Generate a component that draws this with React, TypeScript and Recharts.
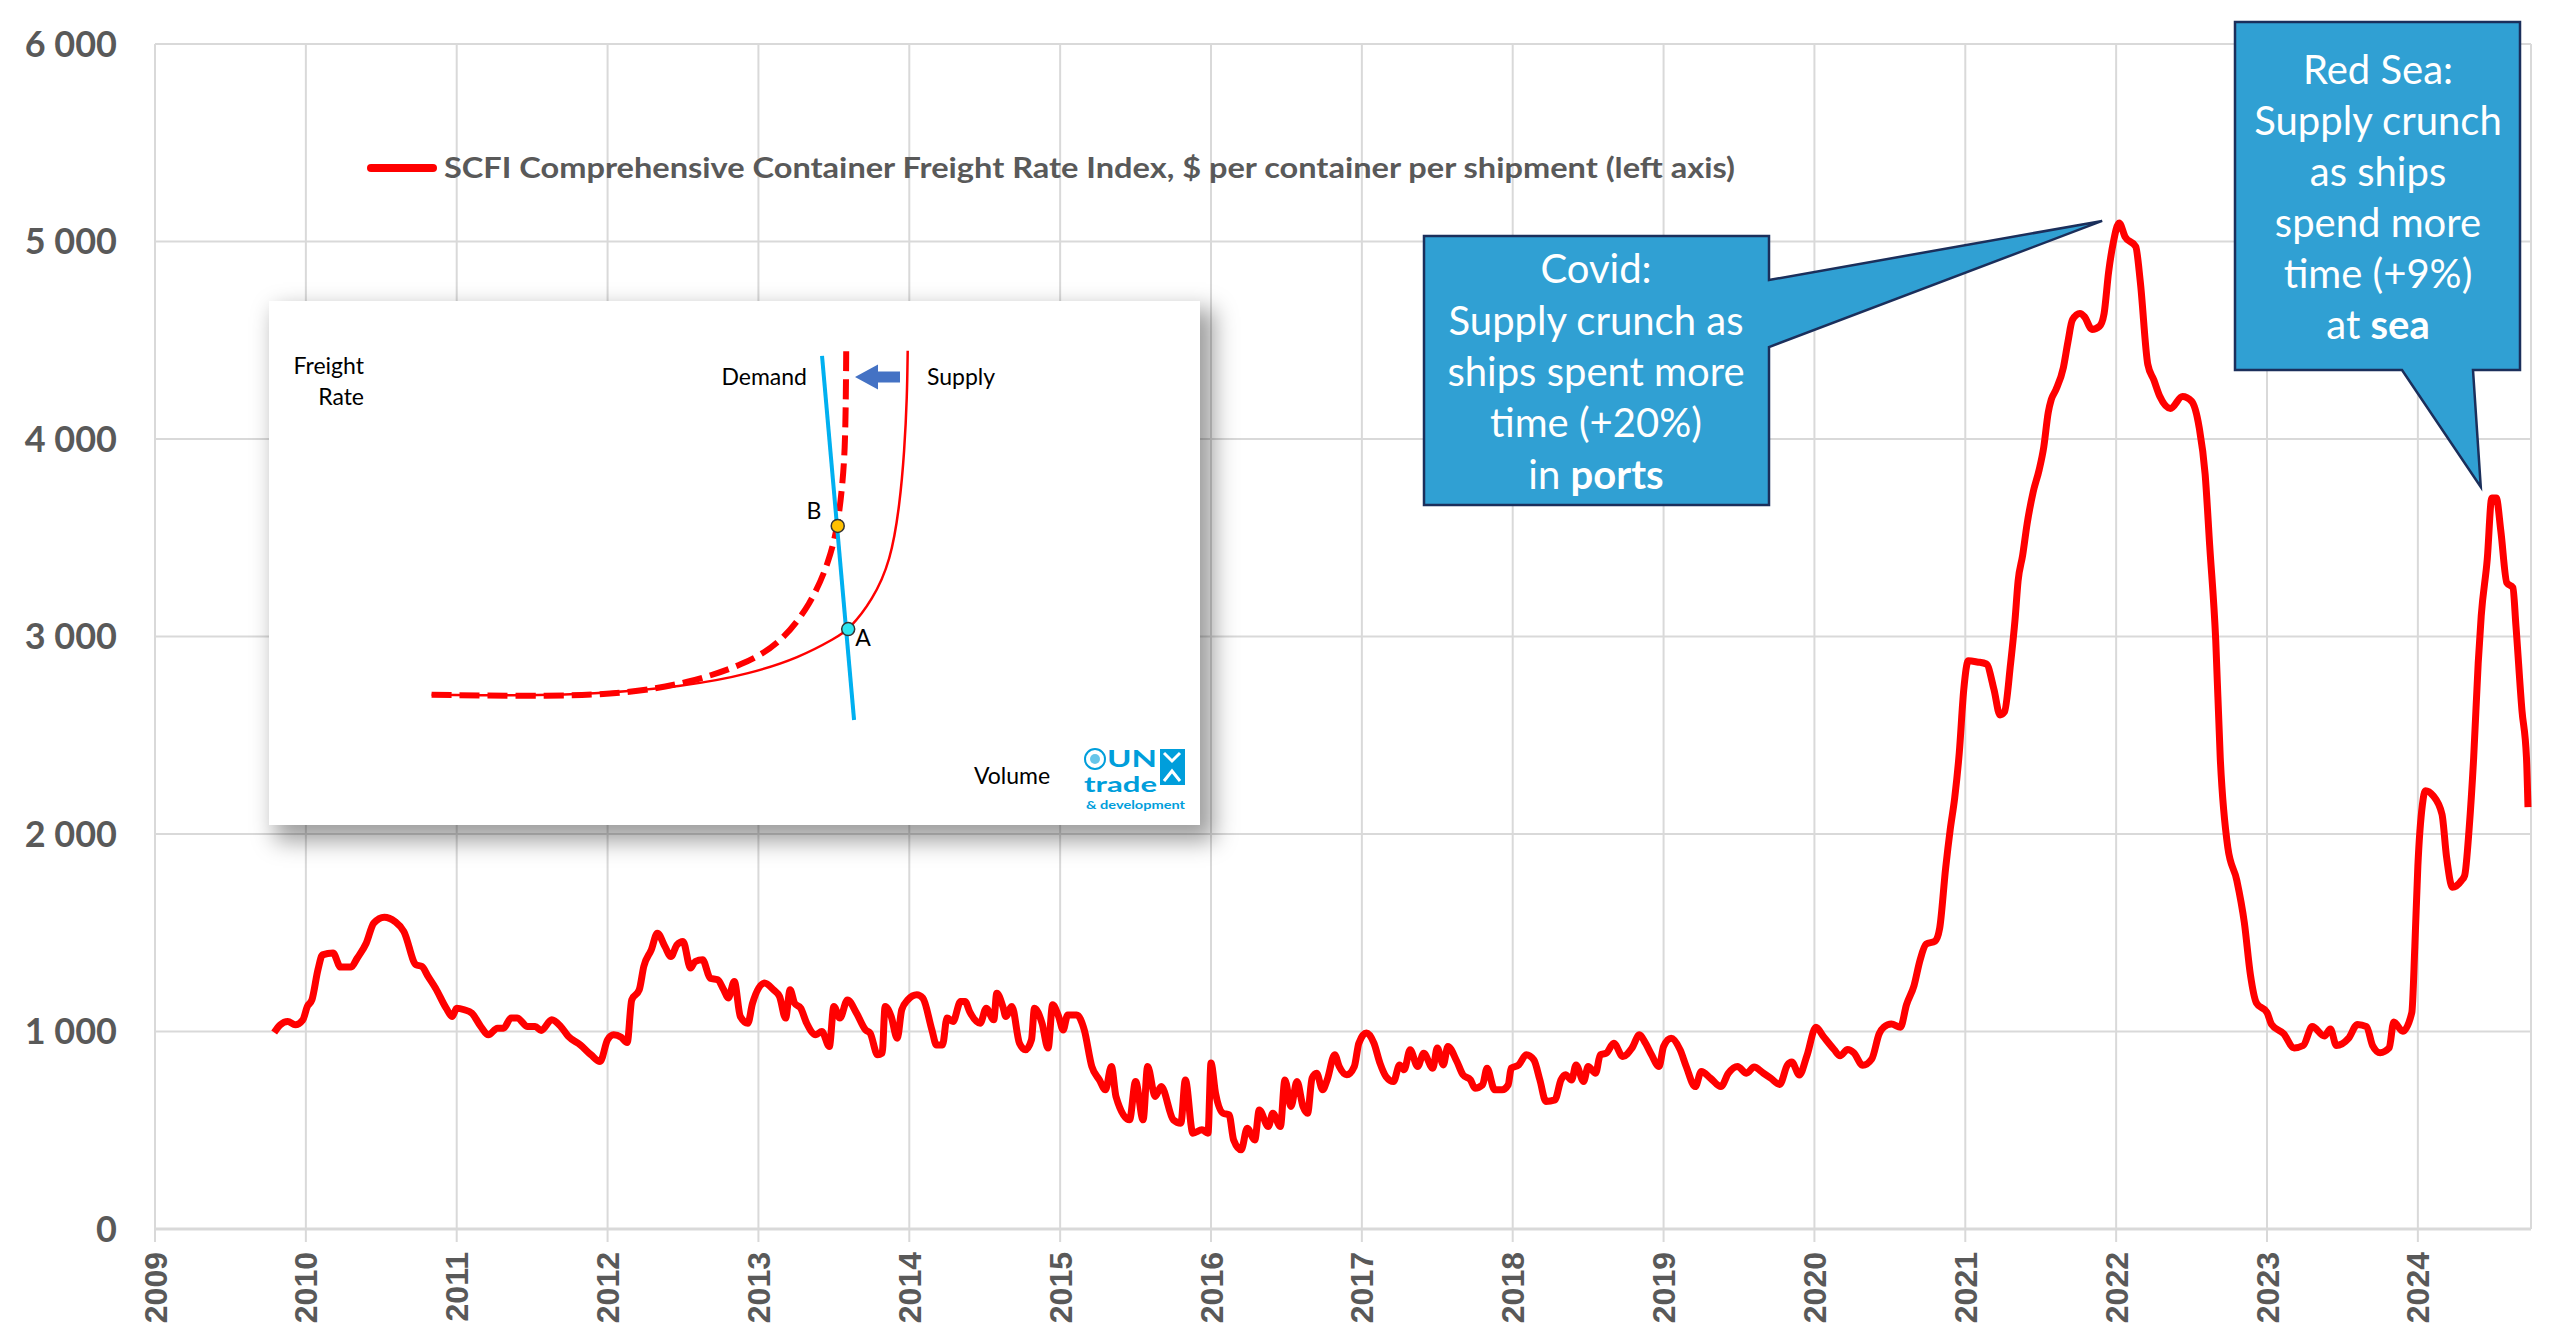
import { CartesianGrid, Line, LineChart, ReferenceDot, XAxis, YAxis } from 'recharts';

// main chart: SCFI weekly index
const YEARS = [2009, 2010, 2011, 2012, 2013, 2014, 2015, 2016, 2017, 2018, 2019, 2020, 2021, 2022, 2023, 2024];
const RATE_TICKS = [0, 1000, 2000, 3000, 4000, 5000, 6000];

const weekDates = [
  2009.79, 2009.83, 2009.88, 2009.93, 2009.98, 2010.01, 2010.04, 2010.08, 2010.11, 2010.18, 2010.23, 2010.3, 2010.34, 2010.4,
  2010.45, 2010.52, 2010.59, 2010.65, 2010.73, 2010.77, 2010.81, 2010.86, 2010.93, 2010.97, 2011.0, 2011.05, 2011.1, 2011.16,
  2011.21, 2011.27, 2011.31, 2011.36, 2011.4, 2011.47, 2011.52, 2011.56, 2011.63, 2011.69, 2011.74, 2011.82, 2011.89, 2011.95,
  2012.0, 2012.04, 2012.09, 2012.13, 2012.16, 2012.21, 2012.24, 2012.29, 2012.33, 2012.38, 2012.42, 2012.46, 2012.5, 2012.55,
  2012.58, 2012.63, 2012.68, 2012.73, 2012.77, 2012.8, 2012.84, 2012.88, 2012.93, 2012.96, 2013.04, 2013.1, 2013.14, 2013.18,
  2013.21, 2013.24, 2013.28, 2013.32, 2013.38, 2013.42, 2013.47, 2013.5, 2013.54, 2013.59, 2013.65, 2013.71, 2013.74, 2013.79,
  2013.82, 2013.84, 2013.88, 2013.92, 2013.95, 2013.99, 2014.05, 2014.09, 2014.15, 2014.18, 2014.22, 2014.25, 2014.29, 2014.34,
  2014.37, 2014.4, 2014.47, 2014.51, 2014.56, 2014.58, 2014.62, 2014.64, 2014.68, 2014.73, 2014.77, 2014.81, 2014.83, 2014.88,
  2014.92, 2014.95, 2014.99, 2015.02, 2015.05, 2015.11, 2015.16, 2015.21, 2015.26, 2015.3, 2015.34, 2015.37, 2015.46, 2015.5,
  2015.55, 2015.58, 2015.63, 2015.67, 2015.75, 2015.8, 2015.83, 2015.88, 2015.94, 2015.98, 2016.0, 2016.03, 2016.08, 2016.12,
  2016.15, 2016.2, 2016.24, 2016.29, 2016.32, 2016.38, 2016.41, 2016.46, 2016.49, 2016.53, 2016.57, 2016.61, 2016.64, 2016.67,
  2016.7, 2016.74, 2016.77, 2016.82, 2016.85, 2016.9, 2016.95, 2016.98, 2017.03, 2017.08, 2017.12, 2017.16, 2017.21, 2017.25,
  2017.28, 2017.32, 2017.37, 2017.41, 2017.47, 2017.5, 2017.54, 2017.57, 2017.63, 2017.67, 2017.72, 2017.75, 2017.8, 2017.83,
  2017.88, 2017.93, 2017.97, 2017.99, 2018.04, 2018.09, 2018.14, 2018.18, 2018.22, 2018.28, 2018.32, 2018.35, 2018.39, 2018.42,
  2018.47, 2018.5, 2018.55, 2018.58, 2018.62, 2018.67, 2018.73, 2018.79, 2018.84, 2018.88, 2018.92, 2018.97, 2019.0, 2019.05,
  2019.11, 2019.15, 2019.21, 2019.25, 2019.31, 2019.38, 2019.43, 2019.49, 2019.55, 2019.6, 2019.66, 2019.71, 2019.77, 2019.82,
  2019.85, 2019.9, 2019.95, 2020.01, 2020.06, 2020.13, 2020.17, 2020.22, 2020.26, 2020.32, 2020.38, 2020.43, 2020.46, 2020.51,
  2020.57, 2020.61, 2020.66, 2020.7, 2020.74, 2020.8, 2020.83, 2020.87, 2020.9, 2020.93, 2020.96, 2020.99, 2021.02, 2021.08,
  2021.14, 2021.19, 2021.23, 2021.26, 2021.3, 2021.33, 2021.35, 2021.38, 2021.41, 2021.45, 2021.49, 2021.52, 2021.55, 2021.57,
  2021.6, 2021.65, 2021.68, 2021.71, 2021.76, 2021.79, 2021.84, 2021.89, 2021.92, 2021.95, 2021.98, 2022.02, 2022.06, 2022.13,
  2022.16, 2022.21, 2022.25, 2022.29, 2022.36, 2022.44, 2022.5, 2022.55, 2022.59, 2022.62, 2022.66, 2022.69, 2022.74, 2022.8,
  2022.85, 2022.89, 2022.93, 2023.0, 2023.03, 2023.11, 2023.18, 2023.24, 2023.3, 2023.38, 2023.42, 2023.46, 2023.54, 2023.6,
  2023.66, 2023.7, 2023.75, 2023.81, 2023.84, 2023.9, 2023.96, 2023.98, 2024.0, 2024.03, 2024.05, 2024.1, 2024.16, 2024.19,
  2024.23, 2024.29, 2024.31, 2024.34, 2024.37, 2024.4, 2024.42, 2024.46, 2024.49, 2024.52, 2024.55, 2024.59, 2024.63, 2024.65,
  2024.69, 2024.72, 2024.73,
];

const scfiValues = [
  995, 1034, 1051, 1034, 1059, 1127, 1160, 1312, 1388, 1397, 1326, 1326, 1371, 1447,
  1549, 1579, 1557, 1506, 1338, 1329, 1279, 1219, 1118, 1076, 1118, 1110, 1093, 1025,
  983, 1017, 1017, 1068, 1068, 1025, 1025, 1005, 1059, 1025, 975, 932, 882, 848,
  958, 983, 971, 944, 1160, 1211, 1329, 1414, 1498, 1430, 1380, 1439, 1456, 1321,
  1354, 1363, 1270, 1262, 1211, 1169, 1253, 1076, 1042, 1140, 1245, 1211, 1177, 1068,
  1211, 1143, 1118, 1042, 983, 1000, 924, 1127, 1068, 1160, 1093, 1008, 992, 882,
  890, 1127, 1076, 966, 1110, 1160, 1186, 1169, 1008, 932, 932, 1068, 1051, 1152,
  1152, 1101, 1042, 1118, 1059, 1194, 1127, 1076, 1127, 941, 907, 958, 1118, 1042,
  916, 1135, 1076, 1008, 1084, 1084, 1008, 823, 755, 705, 823, 671, 553, 747,
  553, 823, 671, 721, 553, 536, 755, 485, 502, 485, 840, 688, 586, 578,
  451, 401, 510, 451, 603, 519, 586, 519, 755, 620, 747, 620, 586, 764,
  789, 705, 755, 882, 823, 781, 823, 941, 992, 941, 840, 772, 747, 831,
  806, 907, 823, 890, 814, 916, 831, 924, 848, 781, 755, 713, 730, 814,
  705, 705, 730, 814, 831, 882, 856, 755, 646, 654, 755, 781, 755, 831,
  747, 823, 789, 882, 890, 941, 873, 916, 983, 941, 882, 823, 924, 966,
  907, 823, 721, 797, 764, 721, 789, 823, 789, 820, 790, 764, 732, 829,
  845, 780, 877, 1022, 974, 909, 877, 909, 893, 829, 861, 990, 1022, 1038,
  1022, 1135, 1232, 1361, 1442, 1458, 1522, 1829, 2022, 2184, 2410, 2732, 2877, 2871,
  2861, 2732, 2603, 2619, 2861, 3087, 3281, 3410, 3571, 3732, 3845, 3958, 4135, 4200,
  4248, 4361, 4490, 4603, 4635, 4619, 4555, 4571, 4635, 4845, 4990, 5094, 5023, 4974,
  4797, 4377, 4299, 4215, 4155, 4215, 4191, 4060, 3821, 3462, 2984, 2387, 1933, 1765,
  1550, 1287, 1144, 1096, 1036, 989, 917, 929, 1025, 977, 1013, 929, 965, 1036,
  1025, 929, 893, 917, 1048, 1001, 1096, 1431, 1837, 2148, 2219, 2195, 2100, 1885,
  1730, 1765, 1789, 2028, 2387, 2865, 3104, 3391, 3701, 3701, 3534, 3271, 3247, 3056,
  2626, 2387, 2136,
];

// inset diagram: freight rate vs volume (0-100 scale)
const supplyVolume = [8.5, 29.1, 47.8, 57.2, 64.7, 70.3, 72.4, 75.9, 78.7, 80.1, 80.8, 81.2, 81.3];
const supplyRate = [13.6, 13.2, 15.6, 18.6, 22.4, 27.1, 29.2, 36.0, 45.3, 58.9, 71.6, 84.3, 95.3];
const shiftedVolume = [8.5, 27.2, 38.4, 47.8, 56.2, 61.8, 66.5, 69.3, 70.6, 71.3, 71.7, 71.85, 71.9];
const shiftedRate = [13.6, 13.2, 13.9, 16.4, 20.7, 25.7, 35.1, 45.3, 53.7, 63.1, 71.6, 84.3, 95.7];
const demandVolume = [68.2, 73.1];
const demandRate = [94.1, 7.6];
const pointA = { v: 72.2, r: 29.2 };
const pointB = { v: 70.6, r: 53.7 };

const W = 2552;
const H = 1334;
const PLOT = { left: 155, top: 44, right: 2531, bottom: 1229 };
const X_DOMAIN: [number, number] = [2009, 2024.75];
const Y_DOMAIN: [number, number] = [0, 6000];

const GREY_TEXT = '#595959';
const GRID = '#d9d9d9';
const CALLOUT_FILL = '#30a0d3';
const CALLOUT_EDGE = '#1b2f5b';
const UN_BLUE = '#009edb';

const seriesData = weekDates.map((t, i) => ({ t, scfi: scfiValues[i] }));
const zip = (vs: number[], rs: number[]) => vs.map((v, i) => ({ v, r: rs[i] }));

// same linear mapping as the chart, used to hook the callout pointers to the peaks
const toPx = (t: number, v: number) => [
  PLOT.left + ((t - X_DOMAIN[0]) / (X_DOMAIN[1] - X_DOMAIN[0])) * (PLOT.right - PLOT.left),
  PLOT.bottom - ((v - Y_DOMAIN[0]) / (Y_DOMAIN[1] - Y_DOMAIN[0])) * (PLOT.bottom - PLOT.top),
];

function peakBetween(from: number, to: number) {
  let best = seriesData[0];
  for (const d of seriesData) {
    if (d.t >= from && d.t <= to && d.scfi > best.scfi) best = d;
  }
  return best;
}

const fmtThousands = (v: number) => String(v).replace(/\B(?=(\d{3})+(?!\d))/g, ' ');

function YearTick({ x, y, payload }: any) {
  return (
    <text
      transform={`translate(${x},${y}) rotate(-90)`}
      textAnchor="end"
      dy="0.36em"
      fontFamily="'Liberation Sans', Arial, sans-serif"
      fontWeight={700}
      fontSize={32}
      fill={GREY_TEXT}
    >
      {payload.value}
    </text>
  );
}

function RateTick({ x, y, payload }: any) {
  return (
    <text x={x} y={y} dy="0.36em" textAnchor="end" fontFamily="Lato, sans-serif" fontWeight={700} fontSize={36} fill={GREY_TEXT}>
      {fmtThousands(payload.value)}
    </text>
  );
}

function Callouts() {
  const covid = peakBetween(2021, 2023);
  const redSea = peakBetween(2024, 2025);
  const [cx, cy] = toPx(covid.t, covid.scfi);
  const [rx, ry] = toPx(redSea.t, redSea.scfi);
  const covidPath = `M1424,236 H1769 V280 L${cx - 17},${cy - 2} L1769,347 V505 H1424 Z`;
  const redSeaPath = `M2235,22 H2520 V370 H2473 L${rx - 11},${ry - 11} L2402,370 H2235 Z`;
  const textProps = { fill: '#fff', fontFamily: 'Lato, sans-serif', fontSize: 40, textAnchor: 'middle' as const, dy: '0.35em' };
  return (
    <svg width={W} height={H} style={{ position: 'absolute', left: 0, top: 0, pointerEvents: 'none' }}>
      <path d={covidPath} fill={CALLOUT_FILL} stroke={CALLOUT_EDGE} strokeWidth={2.5} strokeLinejoin="miter" />
      <text x={1596} y={269} {...textProps}>Covid:</text>
      <text x={1596} y={321} {...textProps}>Supply crunch as</text>
      <text x={1596} y={372} {...textProps}>ships spent more</text>
      <text x={1596} y={423} {...textProps}>time (+20%)</text>
      <text x={1596} y={475} {...textProps}>
        in <tspan fontWeight={700}>ports</tspan>
      </text>

      <path d={redSeaPath} fill={CALLOUT_FILL} stroke={CALLOUT_EDGE} strokeWidth={2.5} />
      <text x={2378} y={70} {...textProps}>Red Sea:</text>
      <text x={2378} y={121} {...textProps}>Supply crunch</text>
      <text x={2378} y={172} {...textProps}>as ships</text>
      <text x={2378} y={223} {...textProps}>spend more</text>
      <text x={2378} y={274} {...textProps}>time (+9%)</text>
      <text x={2378} y={325} {...textProps}>
        at <tspan fontWeight={700}>sea</tspan>
      </text>
    </svg>
  );
}

function Inset() {
  const label = { fontFamily: 'Lato, sans-serif', fontSize: 23, fill: '#000', dy: '0.35em' };
  return (
    <div
      style={{
        position: 'absolute',
        left: 269,
        top: 301,
        width: 931,
        height: 524,
        background: '#fff',
        boxShadow: '10px 12px 22px 4px rgba(0,0,0,0.38)',
      }}
    >
      <LineChart width={931} height={524} margin={{ top: 30, right: 170, bottom: 73, left: 107 }}>
        <XAxis type="number" dataKey="v" domain={[0, 100]} height={0} tick={false} tickLine={false} axisLine={{ stroke: '#000', strokeWidth: 5 }} />
        <YAxis type="number" dataKey="r" domain={[0, 100]} width={0} tick={false} tickLine={false} axisLine={{ stroke: '#000', strokeWidth: 3 }} />
        <Line data={zip(supplyVolume, supplyRate)} dataKey="r" type="basis" stroke="#ff0000" strokeWidth={2.5} dot={false} isAnimationActive={false} />
        <Line data={zip(shiftedVolume, shiftedRate)} dataKey="r" type="basis" stroke="#ff0000" strokeWidth={6} strokeDasharray="20 8" dot={false} isAnimationActive={false} />
        <Line data={zip(demandVolume, demandRate)} dataKey="r" type="linear" stroke="#00b0f0" strokeWidth={4} dot={false} isAnimationActive={false} />
        <ReferenceDot x={pointB.v} y={pointB.r} r={6.5} fill="#ffc000" stroke="#333" strokeWidth={1.5} />
        <ReferenceDot x={pointA.v} y={pointA.r} r={6.5} fill="#2ee6f0" stroke="#333" strokeWidth={1.5} />
      </LineChart>
      <svg width={931} height={524} style={{ position: 'absolute', left: 0, top: 0, pointerEvents: 'none' }}>
        <text x={95} y={65} textAnchor="end" {...label}>Freight</text>
        <text x={95} y={96} textAnchor="end" {...label}>Rate</text>
        <text x={538} y={76} textAnchor="end" {...label}>Demand</text>
        <text x={658} y={76} {...label}>Supply</text>
        <polygon points="586,76 609,63.5 609,70.5 631,70.5 631,81.5 609,81.5 609,88.5" fill="#4472c4" />
        <text x={545} y={210} textAnchor="middle" {...label}>B</text>
        <text x={594} y={337} textAnchor="middle" {...label}>A</text>
        <text x={743} y={475} textAnchor="middle" {...label}>Volume</text>
        {/* UN trade & development logo */}
        <g fill={UN_BLUE} fontFamily="Lato, sans-serif" fontWeight={700}>
          <circle cx={826} cy={458} r={10} fill="none" stroke={UN_BLUE} strokeWidth={2} />
          <circle cx={826} cy={458} r={5} fill={UN_BLUE} opacity={0.6} />
          <text x={838} y={466} fontSize={22} textLength={50} lengthAdjust="spacingAndGlyphs">UN</text>
          <rect x={891} y={448} width={25} height={36} />
          <polyline points="895,452 903,460 911,452" fill="none" stroke="#fff" strokeWidth={3} />
          <polyline points="895,480 903,470 911,480" fill="none" stroke="#fff" strokeWidth={3} />
          <text x={815} y={491} fontSize={20} textLength={73} lengthAdjust="spacingAndGlyphs">trade</text>
          <text x={817} y={508} fontSize={12} textLength={99} lengthAdjust="spacingAndGlyphs">&amp; development</text>
        </g>
      </svg>
    </div>
  );
}

function LegendRow() {
  return (
    <svg width={1420} height={60} style={{ position: 'absolute', left: 360, top: 138 }}>
      <line x1={11} y1={30} x2={73} y2={30} stroke="#ff0000" strokeWidth={8} strokeLinecap="round" />
      <text x={84} y={30} dy="0.35em" fontFamily="Lato, sans-serif" fontWeight={700} fontSize={29} fill={GREY_TEXT} textLength={1291} lengthAdjust="spacingAndGlyphs">
        SCFI Comprehensive Container Freight Rate Index, $ per container per shipment (left axis)
      </text>
    </svg>
  );
}

export default function App() {
  return (
    <div style={{ position: 'absolute', left: 0, top: 0, width: W, height: H, background: '#fff', fontFamily: 'Lato, sans-serif' }}>
      <LineChart width={W} height={H} data={seriesData} margin={{ top: PLOT.top, right: W - PLOT.right, bottom: 0, left: 0 }}>
        <CartesianGrid stroke={GRID} strokeWidth={2} />
        <XAxis
          type="number"
          dataKey="t"
          domain={X_DOMAIN}
          ticks={YEARS}
          interval={0}
          height={H - PLOT.bottom}
          tick={<YearTick />}
          tickSize={13}
          tickMargin={10}
          tickLine={{ stroke: GRID, strokeWidth: 2 }}
          axisLine={{ stroke: GRID, strokeWidth: 3 }}
        />
        <YAxis
          type="number"
          domain={Y_DOMAIN}
          ticks={RATE_TICKS}
          interval={0}
          width={PLOT.left}
          tick={<RateTick />}
          tickSize={0}
          tickMargin={38}
          tickLine={false}
          axisLine={false}
        />
        <Line dataKey="scfi" type="monotone" stroke="#ff0000" strokeWidth={7} dot={false} isAnimationActive={false} />
      </LineChart>
      <LegendRow />
      <Inset />
      <Callouts />
    </div>
  );
}
